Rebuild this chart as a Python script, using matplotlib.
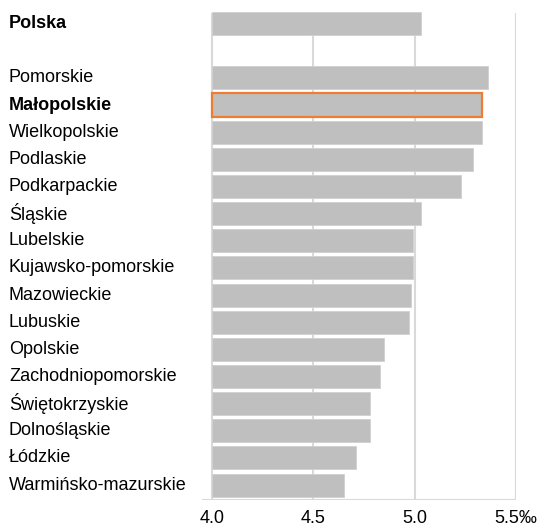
import matplotlib.pyplot as plt

# dane: wskaźnik w promilach
regiony = [
    "Polska",
    "Pomorskie",
    "Małopolskie",
    "Wielkopolskie",
    "Podlaskie",
    "Podkarpackie",
    "Śląskie",
    "Lubelskie",
    "Kujawsko-pomorskie",
    "Mazowieckie",
    "Lubuskie",
    "Opolskie",
    "Zachodniopomorskie",
    "Świętokrzyskie",
    "Dolnośląskie",
    "Łódzkie",
    "Warmińsko-mazurskie",
]
wartosci = [5.03, 5.36, 5.33, 5.33, 5.29, 5.23, 5.03, 4.99, 4.99, 4.98,
            4.97, 4.85, 4.83, 4.78, 4.78, 4.71, 4.65]
pogrubione = ["Polska", "Małopolskie"]
wyroznione = "Małopolskie"
osie_x = [4.0, 4.5, 5.0, 5.5]
etykiety_x = ["4.0", "4.5", "5.0", "5.5‰"]

plt.rcParams["font.family"] = ["Liberation Sans", "DejaVu Sans"]

fig = plt.figure(figsize=(5.53, 5.28), dpi=100)
ax = fig.add_axes([202 / 553, 1 - 500 / 528, 314 / 553, 490 / 528])

# Polska na górze, potem przerwa i województwa
pozycje = [0] + [i + 1 for i in range(1, len(regiony))]

for y, nazwa, v in zip(pozycje, regiony, wartosci):
    if nazwa == wyroznione:
        ax.barh(y, v - 4.0, left=4.0, height=0.85, color="#bfbfbf",
                edgecolor="#ed7d31", linewidth=1.6, zorder=3)
    else:
        ax.barh(y, v - 4.0, left=4.0, height=0.85, color="#bfbfbf",
                edgecolor="#d0d0d0", linewidth=0.6, zorder=3)

ax.set_xlim(3.95, 5.5)
ax.set_ylim(17.55, -0.5)

for x in osie_x:
    ax.plot([x, x], [17.55, -0.35], color="#d9d9d9", linewidth=1.5, zorder=1)

ax.axhline(17.55, color="#d9d9d9", linewidth=1.5, zorder=2)

for s in ax.spines.values():
    s.set_visible(False)

ax.set_xticks(osie_x)
ax.set_xticklabels(etykiety_x, fontsize=13)
ax.tick_params(axis="x", length=0, pad=7)
ax.set_yticks([])

# etykiety regionów wyrównane do lewej
fig.canvas.draw()
for y, nazwa in zip(pozycje, regiony):
    py = ax.transData.transform((4.0, y))[1]
    fig.text(9 / 553, py / 528, nazwa, ha="left", va="center", fontsize=13,
             fontweight="bold" if nazwa in pogrubione else "normal")

fig.savefig("out.png", dpi=100)
